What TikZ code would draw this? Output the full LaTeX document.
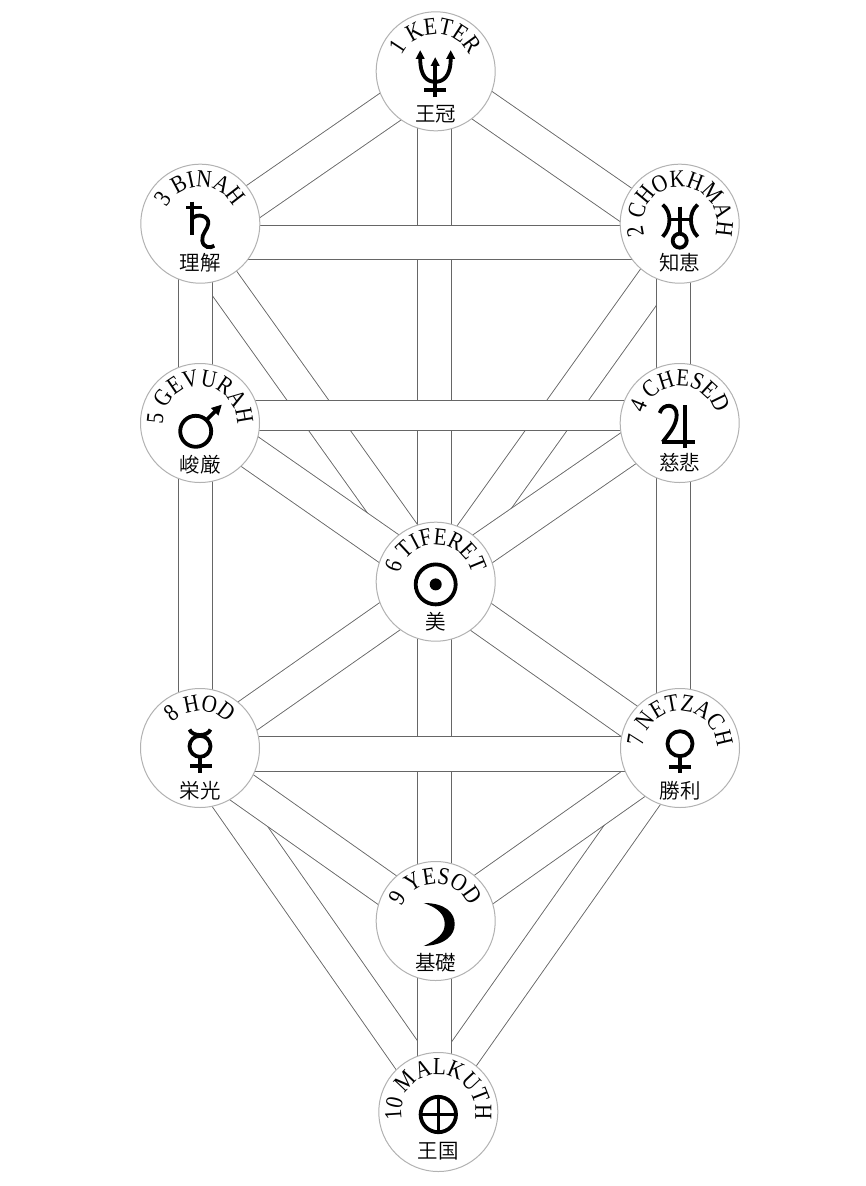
\documentclass[tikz,border=0pt]{standalone}
\usepackage{fontspec}
\setmainfont{Liberation Serif}
\newfontfamily\sephfamily[FakeStretch=0.86]{Liberation Serif}
\newfontfamily\kanjifamily{Noto Sans CJK JP DemiLight}
\usetikzlibrary{decorations.text}

\begin{document}
\begin{tikzpicture}[
    x=1pt, y=-1pt,
    sephira/.style={circle, draw=black!30, fill=white, line width=1pt, minimum size=119pt, inner sep=0pt, outer sep=0pt},
    tract/.style={draw=black!60, line width=0.9pt, double=white, double distance=33pt},
    sign/.style={draw=black, line width=3.8pt},
    kanji/.style={inner sep=0pt, font=\fontsize{20.5}{22}\kanjifamily},
    sephname/.style={decorate, decoration={text along path, text align=center, text={|\fontsize{24.5}{26}\sephfamily|#1}}}
]
\path[use as bounding box] (0,0) rectangle (865,1186);

% 1. centres
\coordinate (keter) at (435.7,71.3);
\coordinate (binah) at (200.3,223.7);
\coordinate (chokhmah) at (679.7,223.7);
\coordinate (gevurah) at (200,423);
\coordinate (chesed) at (679.7,423);
\coordinate (tiferet) at (435.7,581.7);
\coordinate (hod) at (200,748);
\coordinate (netzach) at (680,748);
\coordinate (yesod) at (435.7,921);
\coordinate (malkuth) at (438.3,1112);

% 2. lowest paths
\draw[tract] ([shift={(-18.4,0)}]binah) -- ([shift={(1.7,0)}]tiferet);
\draw[tract] ([shift={(14.1,0)}]chokhmah) -- ([shift={(2.4,0)}]tiferet);
\draw[tract] ([shift={(-8,0)}]hod) -- ([shift={(8.2,0)}]malkuth);
\draw[tract] ([shift={(-0.6,0)}]netzach) -- ([shift={(-15.3,0)}]malkuth);

% 3. upper triangle
\draw[tract] ([shift={(0,14.5)}]binah) -- ([shift={(0,4)}]keter);
\draw[tract] ([shift={(0,18.5)}]chokhmah) -- ([shift={(0,1.8)}]keter);

% 4. paths into tiferet and yesod
\draw[tract] ([shift={(0,-6)}]gevurah) -- ([shift={(0,-0.5)}]tiferet);
\draw[tract] ([shift={(0,-10.2)}]chesed) -- ([shift={(0,-0.5)}]tiferet);
\draw[tract] ([shift={(0,1.3)}]hod) -- ([shift={(0,2.4)}]tiferet);
\draw[tract] ([shift={(0,9)}]netzach) -- ([shift={(0,3.3)}]tiferet);
\draw[tract] ([shift={(0,9.9)}]hod) -- ([shift={(0,3.3)}]yesod);
\draw[tract] ([shift={(0,2.9)}]netzach) -- ([shift={(0,2.4)}]yesod);

% 5. verticals
\draw[tract] ([shift={(-4.8,0)}]binah) -- ([shift={(-4.5,0)}]gevurah);
\draw[tract] ([shift={(-4.5,0)}]gevurah) -- ([shift={(-4.5,0)}]hod);
\draw[tract] ([shift={(-6.5,0)}]chokhmah) -- ([shift={(-6.5,0)}]chesed);
\draw[tract] ([shift={(-6.5,0)}]chesed) -- ([shift={(-6.8,0)}]netzach);
\draw[tract] ([shift={(-1.2,0)}]keter) -- ([shift={(-1.2,0)}]tiferet);
\draw[tract] ([shift={(-1.2,0)}]tiferet) -- ([shift={(-1.2,0)}]yesod);
\draw[tract] ([shift={(-1.2,0)}]yesod) -- ([shift={(-3.8,0)}]malkuth);

% 6. horizontals
\draw[tract] ([shift={(0,18.8)}]binah) -- ([shift={(0,18.8)}]chokhmah);
\draw[tract, double distance=28.5pt] ([shift={(0,-7.5)}]gevurah) -- ([shift={(0,-7.5)}]chesed);
\draw[tract, double distance=34pt] ([shift={(0,5.9)}]hod) -- ([shift={(0,5.9)}]netzach);

% 7. circles
\node[sephira] (keter-disc) at (keter) {};
\node[sephira] (binah-disc) at (binah) {};
\node[sephira] (chokhmah-disc) at (chokhmah) {};
\node[sephira] (gevurah-disc) at (gevurah) {};
\node[sephira] (chesed-disc) at (chesed) {};
\node[sephira] (tiferet-disc) at (tiferet) {};
\node[sephira] (hod-disc) at (hod) {};
\node[sephira] (netzach-disc) at (netzach) {};
\node[sephira] (yesod-disc) at (yesod) {};
\node[sephira] (malkuth-disc) at (malkuth) {};

% 8. names
\path[sephname={1 KETER}] ([shift={(215:37pt)}]keter) arc (215:-35:37pt);
\path[sephname={3 BINAH}] ([shift={(215:37pt)}]binah) arc (215:-35:37pt);
\path[sephname={2 CHOKHMAH}] ([shift={(215:37pt)}]chokhmah) arc (215:-35:37pt);
\path[sephname={5 GEVURAH}] ([shift={(215:37pt)}]gevurah) arc (215:-35:37pt);
\path[sephname={4 CHESED}] ([shift={(215:37pt)}]chesed) arc (215:-35:37pt);
\path[sephname={6 TIFERET}] ([shift={(215:37pt)}]tiferet) arc (215:-35:37pt);
\path[sephname={8 HOD}] ([shift={(215:37pt)}]hod) arc (215:-35:37pt);
\path[sephname={7 NETZACH}] ([shift={(215:37pt)}]netzach) arc (215:-35:37pt);
\path[sephname={9 YESOD}] ([shift={(215:37pt)}]yesod) arc (215:-35:37pt);
\path[sephname={10 MALKUTH}] ([shift={(215:37pt)}]malkuth) arc (215:-35:37pt);

% 9. signs
\begin{scope}[shift={(keter)}] % neptune
  \draw[sign] (-0.5,-7) -- (-0.5,26) (-11.7,18.7) -- (10.3,18.7);
  \draw[sign] (-15.5,-13) .. controls (-15.5,6) and (-8,10.5) .. (-0.5,10.5) .. controls (7,10.5) and (15,6) .. (15,-13);
  \fill (-15.5,-21) -- (-20,-12.5) -- (-11,-12.5) -- cycle;
  \fill (15,-21) -- (10.5,-12.5) -- (19.5,-12.5) -- cycle;
  \fill (-0.5,-14) -- (-5,-5.5) -- (4,-5.5) -- cycle;
\end{scope}
\begin{scope}[shift={(binah)}] % saturn
  \draw[sign] (-8.3,-22) -- (-8.3,11.3) (-14,-16.3) -- (1.7,-16.3);
  \draw[sign] (-8.3,-5) .. controls (-3,-11) and (9,-8) .. (8,0) .. controls (7.5,6) and (1,10) .. (2,17) .. controls (3,24) and (10,25) .. (14,22);
\end{scope}
\begin{scope}[shift={(chokhmah)}] % uranus
  \draw[sign] (0,-17) -- (0,10) (-12,-4.3) -- (12,-4.3);
  \draw[sign] (0,17) circle[radius=7pt];
  \draw[sign] (-17,-19) .. controls (-8,-12) and (-8,4) .. (-17,13);
  \draw[sign] (18,-19) .. controls (9,-12) and (9,4) .. (18,13);
\end{scope}
\begin{scope}[shift={(gevurah)}] % mars
  \draw[sign] (-4.3,8.3) circle[radius=15.5pt];
  \draw[sign] (6.5,-3) -- (16,-12.5);
  \fill (21.7,-18.3) -- (11,-15) -- (18.5,-7.5) -- cycle;
\end{scope}
\begin{scope}[shift={(chesed)}] % jupiter
  \draw[sign] (5.3,-18) -- (5.3,25) (-18,19) -- (15,19);
  \draw[sign] (-20,-10) .. controls (-17,-20) and (-3,-20) .. (-3,-8) .. controls (-3,3) and (-12,12) .. (-17,19);
\end{scope}
\begin{scope}[shift={(tiferet)}] % sun
  \draw[sign] (0,2.7) circle[radius=20pt];
  \fill (0,2.7) circle[radius=6pt];
\end{scope}
\begin{scope}[shift={(hod)}] % mercury
  \draw[sign] (0,-1.7) circle[radius=10.5pt];
  \draw[sign] (-10.5,-18.5) .. controls (-9,-14.5) and (-4,-13) .. (0,-13) .. controls (4,-13) and (9,-14.5) .. (10.5,-18.5);
  \draw[sign] (0,9) -- (0,25) (-10,18) -- (11.7,18);
\end{scope}
\begin{scope}[shift={(netzach)}] % venus
  \draw[sign] (0,-4.3) circle[radius=12.5pt];
  \draw[sign] (0,8) -- (0,25) (-11,19) -- (11,19);
\end{scope}
\begin{scope}[shift={(yesod)}] % moon
  \fill (-12,-18) .. controls (10,-18) and (19,-8) .. (19,3) .. controls (19,14) and (10,24) .. (-12,25) .. controls (3,18) and (9,12) .. (9,3) .. controls (9,-6) and (3,-13) .. cycle;
\end{scope}
\begin{scope}[shift={(malkuth)}] % earth
  \draw[sign] (0,2.5) circle[radius=17.7pt];
  \draw[line width=2.8pt] (-17.7,2.5) -- (17.7,2.5) (0,-15.2) -- (0,20.2);
\end{scope}

% 10. japanese
\node[kanji] (keter-kanji) at ([shift={(0,43)}]keter) {王冠};
\node[kanji] (binah-kanji) at ([shift={(0,39)}]binah) {理解};
\node[kanji] (chokhmah-kanji) at ([shift={(0,39)}]chokhmah) {知恵};
\node[kanji] (gevurah-kanji) at ([shift={(0,42)}]gevurah) {峻厳};
\node[kanji] (chesed-kanji) at ([shift={(0,40)}]chesed) {慈悲};
\node[kanji] (tiferet-kanji) at ([shift={(0,40)}]tiferet) {美};
\node[kanji] (hod-kanji) at ([shift={(0,43)}]hod) {栄光};
\node[kanji] (netzach-kanji) at ([shift={(0,43)}]netzach) {勝利};
\node[kanji] (yesod-kanji) at ([shift={(0,42)}]yesod) {基礎};
\node[kanji] (malkuth-kanji) at ([shift={(0,39)}]malkuth) {王国};

\end{tikzpicture}
\end{document}
